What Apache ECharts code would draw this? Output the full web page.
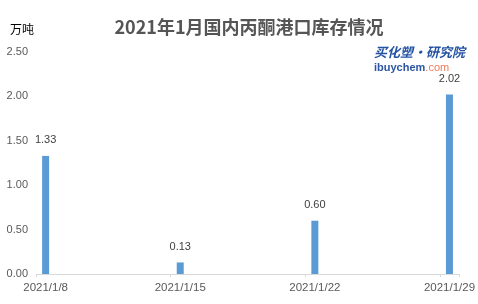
<!DOCTYPE html>
<html><head><meta charset="utf-8">
<script src="https://cdn.jsdelivr.net/npm/echarts@6/dist/echarts.min.js"></script>
<style>html,body{margin:0;padding:0;background:#fff}#c{width:478px;height:304px}</style>
</head><body><div id="c"></div>
<script>
const title = '2021年1月国内丙酮港口库存情况';
const unit = '万吨';
const dates = ['2021/1/8', '2021/1/15', '2021/1/22', '2021/1/29'];
const values = [1.33, 0.13, 0.60, 2.02];
const yTicks = [0, 0.5, 1.0, 1.5, 2.0, 2.5];

// date axis: one slot per calendar day between first and last date
const startDay = 8, endDay = 29;
const days = [];
for (let d = startDay; d <= endDay; d++) days.push('2021/1/' + d);

const chart = echarts.init(document.getElementById('c'), null, {renderer: 'canvas'});
chart.setOption({
  animation: false,
  backgroundColor: '#fff',
  title: {
    text: title, left: 244, top: 13, textAlign: 'center',
    textStyle: {fontFamily: 'Noto Sans CJK SC', fontWeight: 'bold', fontSize: 18, color: '#555555'}
  },
  graphic: [
    {type: 'text', left: 10, top: 23, style: {text: unit, fontFamily: 'Noto Sans CJK SC', fontSize: 12, fill: '#000'}},
    {type: 'text', left: 374, top: 46, style: {text: '买化塑·研究院', fontFamily: 'Noto Sans CJK SC', fontWeight: 'bold', fontStyle: 'italic', fontSize: 13, fill: '#2352a3'}},
    {type: 'text', left: 374, top: 62, style: {rich: {a: {fontFamily: 'Liberation Sans', fontWeight: 'bold', fontSize: 11, fill: '#2b55a0'}, b: {fontFamily: 'Liberation Sans', fontSize: 11, fill: '#f07a5a'}}, text: '{a|ibuychem}{b|.com}'}}
  ],
  grid: {left: 36, right: 17, top: 52, bottom: 30, containLabel: false},
  xAxis: {
    type: 'category', data: days, boundaryGap: true,
    axisLine: {lineStyle: {color: '#d9d9d9'}},
    axisTick: {show: true, interval: 6, alignWithLabel: false, length: 3, lineStyle: {color: '#d9d9d9'}},
    axisLabel: {interval: 6, color: '#595959', fontFamily: 'Liberation Sans', fontSize: 11.5, margin: 8, showMaxLabel: true}
  },
  yAxis: {
    type: 'value', min: yTicks[0], max: yTicks[yTicks.length - 1], interval: 0.5,
    axisLine: {show: false}, axisTick: {show: false}, splitLine: {show: false},
    axisLabel: {color: '#595959', fontFamily: 'Liberation Sans', fontSize: 11, margin: 8, formatter: v => v.toFixed(2)}
  },
  series: [{
    type: 'bar', barWidth: 7,
    data: dates.map((d, i) => [d, values[i]]),
    itemStyle: {color: '#5b9bd5'},
    label: {show: true, position: 'top', distance: 10, color: '#404040', fontFamily: 'Liberation Sans', fontSize: 11, formatter: p => p.value[1].toFixed(2)}
  }]
});
</script></body></html>
